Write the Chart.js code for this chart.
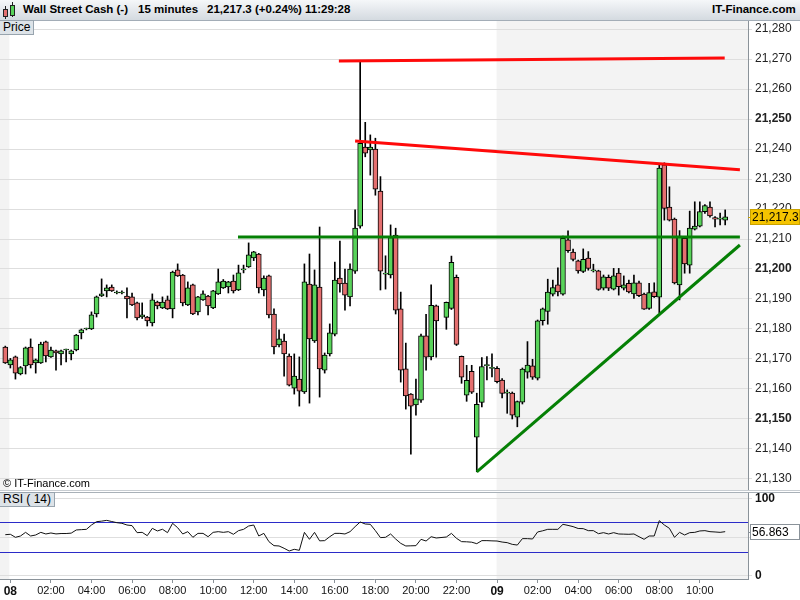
<!DOCTYPE html>
<html>
<head>
<meta charset="utf-8">
<script src="https://cdn.jsdelivr.net/npm/chart.js@4.4.1/dist/chart.umd.min.js"></script>
<style>
body { margin: 0; background: #fff; }
#wrap { position: relative; width: 800px; height: 600px; overflow: hidden; background: #fff; font-family: "Liberation Sans", Arial, sans-serif; }
#head { position: absolute; left: 0; top: 0; width: 800px; height: 21px; box-sizing: border-box; background: linear-gradient(#f5f7f9, #d4dae0); border-bottom: 1px solid #a3adb7; font-size: 11.5px; font-weight: bold; color: #000; }
#head span { position: absolute; top: 3px; white-space: nowrap; }
.tag { position: absolute; left: 0; background: #dde3e8; border: 1px solid #98a4ae; border-left: none; font-size: 12px; padding: 0 3px; line-height: 13px; color: #000; }
.line { position: absolute; left: 0; width: 800px; height: 1px; }
canvas { position: absolute; left: 0; }
.ic { position: absolute; border: 1px solid #222; }
.wk { position: absolute; width: 1px; background: #222; }
</style>
</head>
<body>
<div id="wrap">
  <div id="head">
    <div class="wk" style="left:5px;top:6px;height:13px"></div>
    <div class="ic" style="left:3px;top:9px;width:3px;height:6px;background:#e46f6f"></div>
    <div class="wk" style="left:12px;top:2px;height:15px"></div>
    <div class="ic" style="left:10px;top:5px;width:3px;height:9px;background:#58d35a"></div>
    <span style="left:23px">Wall Street Cash (-)</span>
    <span style="left:138px">15 minutes</span>
    <span style="left:207px">21,217.3 (+0.24%)</span>
    <span style="left:305px">11:29:28</span>
    <span style="left:712px">IT-Finance.com</span>
  </div>
  <canvas id="price" width="800" height="469" style="top:21px"></canvas>
  <div class="tag" style="top:20px">Price</div>
  <div style="position:absolute;left:3px;top:477px;font-size:11px;color:#000">© IT-Finance.com</div>
  <div class="line" style="top:490px;background:#c8cdd2"></div>
  <div class="line" style="top:492px;background:#a9b1b8"></div>
  <canvas id="rsi" width="800" height="107" style="top:493px"></canvas>
  <div class="tag" style="top:492px">RSI ( 14)</div>
</div>
<script>
const open = [21174, 21168.0, 21170.7, 21165, 21167.7, 21174, 21168.7, 21168.7, 21175.7, 21170.7,
  21172.7, 21171.7, 21173, 21171.7, 21173, 21178.7, 21180, 21180, 21185, 21191,
  21192.7, 21194, 21192, 21192, 21191, 21190.7, 21188.7, 21184, 21184, 21182,
  21189, 21187, 21189.7, 21186.7, 21199.7, 21198, 21188, 21194.7, 21185.7, 21189.7,
  21191, 21187, 21191.7, 21193.7, 21194, 21196, 21193, 21199.7, 21200.7, 21203.7,
  21205, 21193, 21197.7, 21185, 21174.7, 21176, 21171, 21160.3, 21163.3, 21159,
  21195, 21176, 21194, 21166.3, 21171.7, 21178.3, 21197, 21195.3, 21190.7, 21199.3,
  21214.3, 21240.6, 21239.7, 21240, 21226, 21198.3, 21198, 21211.3, 21186.7, 21166.7,
  21158.3, 21154.7, 21156.3, 21177.7, 21170.7, 21187.7, null, 21183.9, 21186.9, 21197.2,
  21170.9, 21157.9, 21165.9, 21143.9, 21155.5, 21167.8, 21166.9, 21166.9, 21163, 21158.6,
  21158.6, 21150.6, 21155.6, 21165.6, 21167.7, 21163.6, 21182.8, 21185.9, 21191.6, 21194.7,
  21191.6, 21209.7, 21205.6, 21202.7, 21199.2, 21203.6, 21199.4, 21199.4, 21193.6, 21197.2,
  21193.3, 21198.6, 21193.6, 21195.2, 21191.7, 21195.4, 21191.6, 21186.9, 21192.4, 21190.6,
  21234.7, 21220.6, 21216.6, 21194.7, 21210.2, 21201.3, 21213.3, 21214.3, 21219.1, 21220.6,
  21217.1, 21216.6, 21216.3];
const high = [21174.3, 21170.2, 21171, 21167.5, 21174, 21176.7, 21170, 21175.6, 21176, 21174,
  21173, 21173, 21173.3, 21173, 21178.2, 21180, 21180.3, 21185.7, 21191, 21196.7,
  21194.7, 21194.7, 21192.7, 21192.7, 21193.7, 21192, 21189, 21188.7, 21184.2, 21191.7,
  21189.3, 21190.7, 21191, 21199.3, 21201.7, 21198.2, 21195.7, 21195, 21190.9, 21192.7,
  21191.2, 21192.9, 21200, 21196.5, 21195.9, 21198, 21201.3, 21201.3, 21208.7, 21205.9,
  21205.2, 21197.7, 21198, 21186.7, 21179.7, 21178.3, 21171.7, 21171.7, 21170.7, 21201.7,
  21205, 21199.7, 21214, 21172, 21181.7, 21202.3, 21209.3, 21200, 21201.7, 21219.7,
  21269.1, 21248.9, 21244.7, 21243.6, 21230.8, 21204.4, 21214.7, 21213.6, 21192.3, 21175.3,
  21158.5, 21163.3, 21178.3, 21184.9, 21194.7, 21188, null, 21189, 21204.3, 21198,
  21171, 21167.9, 21167.9, 21158.6, 21170.5, 21170.8, 21171.7, 21167.5, 21163.5, 21159.7,
  21159, 21156, 21167, 21175.8, 21169.9, 21183, 21187, 21196.6, 21196.3, 21200.4,
  21211, 21212.7, 21206.6, 21203, 21206.7, 21205.8, 21201.6, 21199.6, 21198, 21198,
  21200.2, 21200.2, 21197.7, 21196.3, 21198, 21196, 21192, 21195.2, 21195.4, 21235,
  21235.4, 21227.4, 21217, 21212.8, 21210.5, 21219.3, 21222.4, 21222.4, 21221.5, 21222.4,
  21217.5, 21218.6, 21219.7];
const low = [21168.5, 21167, 21163.3, 21164.7, 21165, 21167, 21165.3, 21168.5, 21169, 21170.5,
  21166.3, 21168, 21169, 21169.7, 21172.7, 21176.7, 21179.7, 21179.8, 21184, 21190.8,
  21190.7, 21192.5, 21191.7, 21191.7, 21183.7, 21187.8, 21183, 21183.5, 21181, 21181,
  21186.7, 21186.8, 21186.5, 21183.7, 21197.5, 21187.7, 21187.8, 21184.8, 21184.7, 21189.5,
  21184.7, 21186.8, 21191.5, 21193.5, 21192, 21192, 21192.8, 21198.7, 21200.5, 21202.8,
  21192, 21191, 21183.7, 21171.7, 21174, 21164.3, 21161, 21158.3, 21154.3, 21158.5,
  21155.3, 21175.5, 21157.3, 21165.3, 21171, 21177.7, 21192.3, 21186.3, 21187.7, 21198.5,
  21213.6, 21237.4, 21231.3, 21224.6, 21193, 21193.3, 21197, 21185, 21162.3, 21153.3,
  21138.3, 21151.3, 21155.5, 21166.3, 21169.7, 21170.6, null, 21179.9, 21186.5, 21174.5,
  21161.9, 21155.9, 21158.5, 21132.4, 21154, 21163, 21164, 21162, 21157, 21151.9,
  21150, 21147.4, 21155, 21163.6, 21163.2, 21163, 21181.3, 21181.6, 21191, 21191,
  21191.3, 21205.5, 21202.7, 21198.6, 21198.8, 21199.6, 21199, 21192.9, 21193, 21192.8,
  21193, 21191.3, 21193, 21192, 21190.2, 21190.8, 21186.5, 21186.5, 21190.5, 21185.4,
  21216.3, 21216, 21195, 21189.7, 21198.6, 21198.6, 21213, 21214, 21218.5, 21217.3,
  21214, 21214.7, 21214.7];
const close = [21168.7, 21169.7, 21165.3, 21167.1, 21173.7, 21168, 21169.7, 21175, 21171, 21173,
  21172, 21172.7, 21173, 21172.7, 21178, 21179.7, 21180, 21184.7, 21190.7, 21191.7,
  21193.7, 21192.7, 21192, 21192, 21190, 21188, 21183.7, 21184.7, 21182.7, 21189.7,
  21187.7, 21189, 21186.7, 21199, 21197.7, 21188.7, 21193.7, 21185, 21190.7, 21191.7,
  21187.7, 21192.7, 21195.7, 21196, 21195.7, 21192.7, 21198.7, 21199.7, 21204.7, 21205.7,
  21193.7, 21197, 21184.7, 21174, 21176.7, 21171.7, 21161.3, 21164.3, 21159.3, 21195.7,
  21176.7, 21194.7, 21166.7, 21171.3, 21178.7, 21196.3, 21195, 21191.3, 21200, 21213.6,
  21241.9, 21238.6, 21240.6, 21226.6, 21199.3, 21198.3, 21210.5, 21186.3, 21166.3, 21157.7,
  21154.3, 21156.7, 21177.7, 21170.6, 21187.9, 21182.7, null, 21188.9, 21202.2, 21174.9,
  21163.9, 21162.9, 21158.9, 21154.9, 21167.5, 21167.8, 21166.9, 21162.4, 21158.5, 21158.6,
  21151.3, 21155.8, 21166.6, 21168, 21163.9, 21182.7, 21186.7, 21192.3, 21193.8, 21192.4,
  21210.2, 21206.1, 21203.2, 21199.4, 21203.2, 21200.2, 21199.4, 21193.2, 21197.4, 21193.6,
  21197.7, 21194.1, 21194.7, 21192.4, 21195.4, 21191.1, 21186.6, 21192.1, 21190.8, 21233.6,
  21220.2, 21216.3, 21195.4, 21211, 21201.7, 21213.6, 21214.3, 21219.1, 21221.1, 21217.7,
  21216.6, 21216.6, 21217.4];
const rsi = [53, 53.5, 49.6, 51.3, 56, 51.3, 52.6, 56, 53.9, 55.2,
  54, 54.5, 54.5, 55, 59.1, 59.5, 59.9, 65.5, 69.8, 70.5,
  71.5, 70, 68.5, 67.7, 65.5, 64.7, 55.6, 56, 51.7, 61.2,
  57.8, 60, 55.6, 67.7, 62, 53.9, 56.9, 49.6, 54.7, 54.7,
  50.4, 56, 56.9, 56, 56.9, 53.5, 58.2, 59.9, 64.2, 65.5,
  51.3, 54.7, 44, 38.8, 38.4, 35.4, 31.9, 34.1, 32.8, 56,
  47, 56, 45, 45.3, 50.4, 54.7, 54.7, 53.9, 56.9, 63.4,
  69.4, 66.8, 66.4, 58.2, 49.2, 49.6, 53.9, 47.4, 41.8, 38.4,
  38.6, 38.8, 47, 44.8, 50.4, 48.7, null, 50, 54.7, 48.3,
  44, 43.8, 43.3, 41.4, 45.3, 45.3, 45, 44.8, 43.5, 42.7,
  40.5, 39.6, 47.9, 47.9, 47.4, 56.5, 58, 59.9, 59.9, 59.9,
  66.4, 65, 63.4, 61, 60.8, 58.2, 58.2, 54.3, 55.6, 53.9,
  55.6, 53.9, 53.7, 53.5, 53.9, 50.4, 47, 51.3, 51.3, 71.1,
  65.5, 61.2, 49.6, 56, 52.6, 55.6, 56, 57.8, 58.2, 56.9,
  56.5, 56, 56.9];

const priceTicks = [21130, 21140, 21150, 21160, 21170, 21180, 21190, 21200, 21210, 21220, 21230, 21240, 21250, 21260, 21270, 21280];
const rsiTicks = [0, 50, 100];
const rsiLevels = [30, 70];
const tickIdx = [1, 9, 17, 25, 33, 41, 49, 57, 65, 73, 81, 89, 97, 105, 113, 121, 129, 137];
const tickText = ['08', '02:00', '04:00', '06:00', '08:00', '10:00', '12:00', '14:00', '16:00', '18:00', '20:00', '22:00', '09', '02:00', '04:00', '06:00', '08:00', '10:00'];
const dayStarts = [1, 97];
const lastPrice = 21217.3;
const lastRsi = 56.863;
// trend lines drawn on the chart: [x1, y1, x2, y2] in candle index / price
const redLines = [[65.8, 21269.3, 141.9, 21270.3], [69.0, 21242.7, 144.9, 21233.1]];
const greenLines = [[45.9, 21210.7, 144.9, 21210.7], [93.0, 21132.4, 144.9, 21208]];

const GREEN = '#58d35a';
const RED = '#e46f6f';
const FONT = '"Liberation Sans", Arial, sans-serif';
const X_MIN = -1.045;
const X_MAX = 146.5;

const dayShade = {
    id: 'dayShade',
    beforeDraw: function (chart) {
        const { ctx, chartArea: a, scales } = chart;
        const x = scales.x;
        ctx.save();
        ctx.fillStyle = '#f3f3f3';
        const p0 = x.getPixelForValue(dayStarts[0] - 0.2);
        ctx.fillRect(a.left, a.top, p0 - a.left, a.bottom - a.top);
        const p1 = x.getPixelForValue(dayStarts[1] - 0.1);
        ctx.fillRect(p1, a.top, a.right - p1, a.bottom - a.top);
        ctx.restore();
    },
};

const valueTag = function (id, value, text, fill, stroke) {
    return {
        id: id,
        afterDraw: function (chart) {
            const { ctx, chartArea: a, scales } = chart;
            const py = Math.round(scales.y.getPixelForValue(value));
            ctx.save();
            ctx.fillStyle = fill;
            ctx.fillRect(a.right + 2, py - 8, 50, 16);
            ctx.strokeStyle = stroke;
            ctx.lineWidth = 1;
            ctx.strokeRect(a.right + 2.5, py - 7.5, 49, 15);
            ctx.beginPath();
            ctx.moveTo(a.right, py + 0.5);
            ctx.lineTo(a.right + 3, py + 0.5);
            ctx.stroke();
            ctx.fillStyle = '#000';
            ctx.font = '12px ' + FONT;
            ctx.textBaseline = 'middle';
            ctx.fillText(text, a.right + 4, py + 1);
            ctx.restore();
        },
    };
};

const rsiBands = {
    id: 'rsiBands',
    beforeDatasetsDraw: function (chart) {
        const { ctx, chartArea: a, scales } = chart;
        ctx.save();
        ctx.strokeStyle = '#2b2bc8';
        ctx.lineWidth = 1;
        for (const lv of rsiLevels) {
            const py = Math.round(scales.y.getPixelForValue(lv)) + 0.5;
            ctx.beginPath();
            ctx.moveTo(a.left, py);
            ctx.lineTo(a.right, py);
            ctx.stroke();
        }
        ctx.restore();
    },
};

const xScale = function (show) {
    return {
        type: 'linear',
        min: X_MIN,
        max: X_MAX,
        offset: false,
        display: show,
        afterBuildTicks: function (s) {
            s.ticks = tickIdx.map((v) => ({ value: v }));
        },
        afterFit: function (s) {
            if (show) s.height = 21;
            s.paddingLeft = 0;
            s.paddingRight = 0;
        },
        grid: { drawOnChartArea: false, tickLength: 4, color: '#8a9299' },
        border: { display: true, color: '#8a9299' },
        ticks: {
            autoSkip: false,
            maxRotation: 0,
            padding: 1,
            color: '#111',
            callback: (v) => tickText[tickIdx.indexOf(v)],
            font: (c) => (c.tick && c.tick.label && c.tick.label.length === 2
                ? { family: FONT, size: 12, weight: 'bold' }
                : { family: FONT, size: 11 }),
        },
    };
};

const createPriceChart = function () {
    const candles = [];
    for (let i = 0; i < open.length; i++) {
        if (open[i] !== null) candles.push(i);
    }
    const lineSet = (l, color) => ({
        type: 'line',
        data: [{ x: l[0], y: l[1] }, { x: l[2], y: l[3] }],
        borderColor: color,
        borderWidth: 3,
        pointRadius: 0,
        order: 0,
    });

    const config = {
        type: 'bar',
        data: {
            datasets: [
                {
                    data: candles.map((i) => ({ x: i, y: [low[i], high[i]] })),
                    backgroundColor: '#000',
                    barThickness: 1,
                    grouped: false,
                    order: 3,
                },
                {
                    data: candles.map((i) => ({ x: i, y: [open[i], close[i]] })),
                    backgroundColor: (c) => (c.raw && close[c.raw.x] >= open[c.raw.x] ? GREEN : RED),
                    borderColor: '#000',
                    borderWidth: 1,
                    borderSkipped: false,
                    barThickness: 5,
                    minBarLength: 1,
                    grouped: false,
                    order: 2,
                },
                ...redLines.map((l) => lineSet(l, '#ff0a0a')),
                ...greenLines.map((l) => lineSet(l, '#058005')),
            ],
        },
        options: {
            responsive: false,
            animation: false,
            devicePixelRatio: 1,
            layout: { padding: 0 },
            plugins: { legend: { display: false }, tooltip: { enabled: false } },
            scales: {
                x: xScale(false),
                y: {
                    position: 'right',
                    min: 21126.33,
                    max: 21282.67,
                    afterBuildTicks: function (s) {
                        s.ticks = priceTicks.map((v) => ({ value: v }));
                    },
                    afterFit: function (s) {
                        s.width = 52;
                        s.paddingTop = 0;
                        s.paddingBottom = 0;
                    },
                    grid: { color: '#dedede', tickLength: 4 },
                    border: { display: true, color: '#8a9299' },
                    ticks: {
                        padding: 3,
                        color: '#222',
                        callback: (v) => v.toLocaleString('en-US'),
                        font: (c) => ({ family: FONT, size: 12, weight: c.tick && c.tick.value % 50 === 0 ? 'bold' : 'normal' }),
                    },
                },
            },
        },
        plugins: [dayShade, valueTag('priceTag', lastPrice, lastPrice.toLocaleString('en-US', { minimumFractionDigits: 1 }), '#f5c400', '#c9a200')],
    };
    new Chart(document.querySelector('#price'), config);
};

const createRsiChart = function () {
    const config = {
        type: 'line',
        data: {
            datasets: [
                {
                    data: rsi.map((v, i) => ({ x: i, y: v })),
                    borderColor: '#111',
                    borderWidth: 1,
                    pointRadius: 0,
                    tension: 0,
                    spanGaps: true,
                },
            ],
        },
        options: {
            responsive: false,
            animation: false,
            devicePixelRatio: 1,
            layout: { padding: 0 },
            plugins: { legend: { display: false }, tooltip: { enabled: false } },
            scales: {
                x: xScale(true),
                y: {
                    position: 'right',
                    min: -4.26,
                    max: 106.85,
                    afterBuildTicks: function (s) {
                        s.ticks = rsiTicks.map((v) => ({ value: v }));
                    },
                    afterFit: function (s) {
                        s.width = 52;
                        s.paddingTop = 0;
                        s.paddingBottom = 0;
                    },
                    grid: { color: '#dedede', tickLength: 4 },
                    border: { display: true, color: '#8a9299' },
                    ticks: {
                        padding: 3,
                        color: '#111',
                        font: (c) => ({ family: FONT, size: 12, weight: c.tick && c.tick.value !== 50 ? 'bold' : 'normal' }),
                    },
                },
            },
        },
        plugins: [dayShade, rsiBands, valueTag('rsiTag', lastRsi, lastRsi.toFixed(3), '#ffffff', '#8a9299')],
    };
    new Chart(document.querySelector('#rsi'), config);
};

const init = function () {
    createPriceChart();
    createRsiChart();
};

document.addEventListener('DOMContentLoaded', init);
</script>
</body>
</html>
